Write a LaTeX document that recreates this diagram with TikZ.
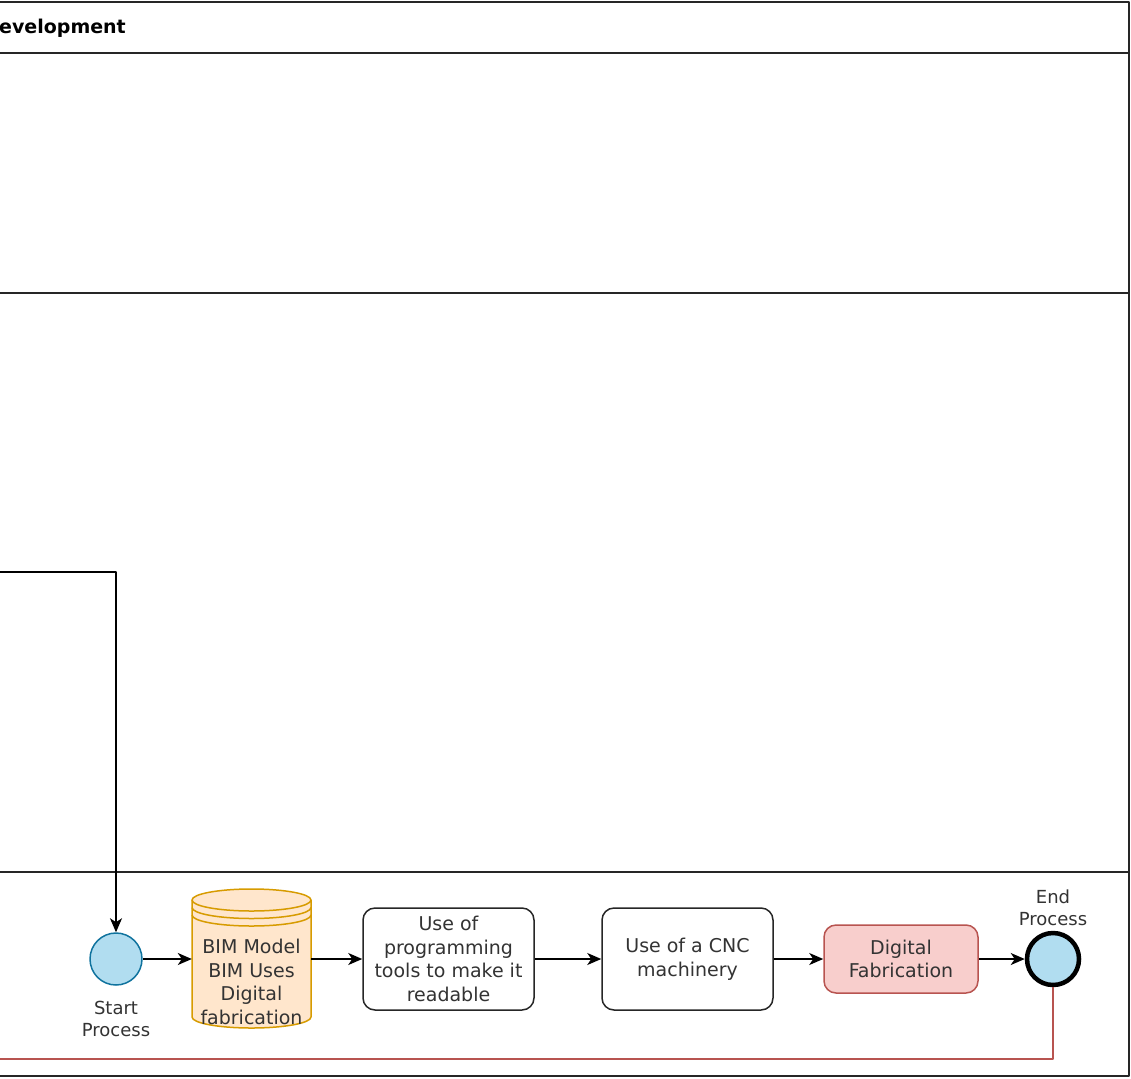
\documentclass[tikz,border=0pt]{standalone}
\usepackage{fontspec}
\setmainfont{DejaVu Sans}
\usetikzlibrary{arrows.meta}
\definecolor{evfill}{HTML}{B1DDF0}
\definecolor{evline}{HTML}{10739E}
\definecolor{dbfill}{HTML}{FFE6CC}
\definecolor{dbline}{HTML}{D79B00}
\definecolor{fabfill}{HTML}{F8CECC}
\definecolor{fabline}{HTML}{B85450}
\definecolor{txtgray}{HTML}{333333}
\begin{document}
\begin{tikzpicture}[x=1pt, y=-1pt, line join=round, >={Stealth[length=14pt,width=12pt,inset=4pt]},
		font=\fontsize{19}{23.5}\selectfont,
		lane/.style={line width=1.6pt, draw=black!85},
		task/.style={draw=black!85, line width=1.5pt, rounded corners=12pt, fill=white, text=txtgray, align=center, inner sep=0pt},
		event/.style={circle, draw=evline, line width=1.5pt, fill=evfill, minimum size=52pt, inner sep=0pt},
		evlabel/.style={align=center, text=txtgray, font=\fontsize{18}{22}\selectfont, inner sep=0pt},
		flow/.style={->, line width=1.6pt, draw=black}]
	\def\W{1129}
	\useasboundingbox (0,0) rectangle (1131,1078);
	% pool frame and lanes
	\draw[lane, line width=2pt] (0,2)--(\W,2)--(\W,1076)--(0,1076);
	\foreach \y in {53,293,872} \draw[lane] (0,\y)--(\W,\y);
	\node[anchor=base west, inner sep=0pt, font=\fontsize{19}{23.5}\selectfont\bfseries] (title) at (-1,34) {evelopment};
	% bottom lane
	\node[event] (start) at (116,959) {};
	\node[evlabel] (startlbl) at (116,1019) {Start\\Process};
	\node[minimum width=119pt, minimum height=138pt, inner sep=0pt] (bim) at (251.5,959) {};
	\path[fill=dbfill, draw=dbline, line width=1.5pt] (192,900)--(192,1017)
		arc[start angle=180, end angle=360, x radius=59.5pt, y radius=11pt]--(311,900)
		arc[start angle=0, end angle=180, x radius=59.5pt, y radius=11pt]--cycle;
	\foreach \d in {0,7.5,15}
		\draw[dbline, line width=1.5pt] (192,900+\d) arc[start angle=180, end angle=360, x radius=59.5pt, y radius=11pt];
	\node[align=center, text=txtgray, inner sep=0pt] (bimtxt) at (251.5,982) {BIM Model\\BIM Uses\\Digital\\fabrication};
	\node[task, minimum width=171pt, minimum height=102pt] (prog) at (448.5,959) {Use of\\programming\\tools to make it\\readable};
	\node[task, minimum width=171pt, minimum height=102pt] (cnc) at (687.5,959) {Use of a CNC\\machinery};
	\node[task, draw=fabline, fill=fabfill, minimum width=154pt, minimum height=68pt] (fab) at (901,959) {Digital\\Fabrication};
	\node[event, draw=black, line width=4.5pt] (end) at (1053,959) {};
	\node[evlabel] (endlbl) at (1053,908) {End\\Process};
	% flows
	\coordinate (inL) at (0,572);
	\coordinate (retL) at (0,1059);
	\draw[flow] (inL) -| (start.north);
	\draw[flow] (start.east)--(bim.west);
	\draw[flow] (bim.east)--(prog.west);
	\draw[flow] (prog.east)--(cnc.west);
	\draw[flow] (cnc.east)--(fab.west);
	\draw[flow] (fab.east)--(end.west);
	\draw[fabline, line width=1.4pt] (end.south) |- (retL);
\end{tikzpicture}
\end{document}
